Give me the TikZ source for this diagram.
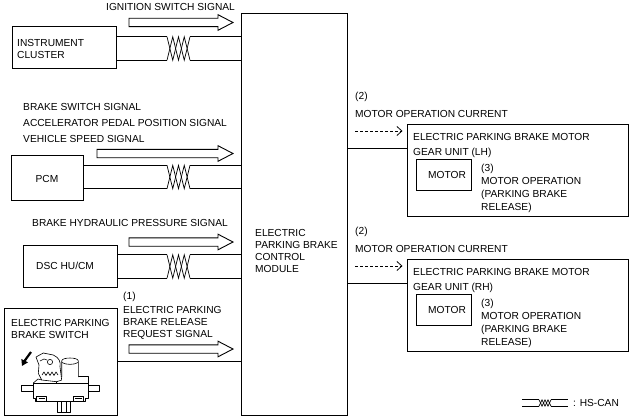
\documentclass[tikz,border=0pt]{standalone}
\usepackage{fontspec}
\setmainfont{Liberation Sans}
\usetikzlibrary{arrows.meta}
\begin{document}
\begin{tikzpicture}[x=1pt,y=-1pt,
  wire/.style={line width=0.9pt},
  box/.style={draw, line width=1pt, inner sep=0pt},
  lbl/.style={inner sep=0pt, anchor=north west, align=left, font=\fontsize{10.2}{12}\selectfont},
  txt/.style={inner sep=0pt, font=\fontsize{10.2}{12}\selectfont},
  sig/.style={dashed, dash pattern=on 3pt off 2pt, line width=0.8pt, -{Straight Barb[length=5pt,width=9pt]}, shorten >=4pt},
  barrow/.pic={\draw[line width=0.9pt, line join=miter] (0,-4.2) -- (#1-15,-4.2) -- (#1-15,-7.8) -- (#1,0) -- (#1-15,7.8) -- (#1-15,4.2) -- (0,4.2) -- cycle;},
  twist/.pic={
    \coordinate (-ul) at (-11.5,-11.75);
    \coordinate (-ur) at (11.5,-11.75);
    \coordinate (-ll) at (-11.5,11.75);
    \coordinate (-lr) at (11.5,11.75);
    \draw[line width=0.7pt] (-11.5,-11.75) -- (-5.75,11.75) -- (0,-11.75) -- (5.75,11.75) -- (11.5,-11.75);
    \draw[line width=0.7pt] (-11.5,11.75) -- (-5.75,-11.75) -- (0,11.75) -- (5.75,-11.75) -- (11.5,11.75);
  }]
\useasboundingbox (0,0) rectangle (636,417);

% ---------- boxes ----------
\node[box, minimum width=106pt, minimum height=401pt] (ecm) at (294,214.5) {};
\node[box, minimum width=104pt, minimum height=42pt] (inst) at (64,48) {};
\node[box, minimum width=72pt, minimum height=45pt] (pcm) at (47,177.5) {};
\node[box, minimum width=94pt, minimum height=42pt] (dsc) at (70,266) {};
\node[box, minimum width=113pt, minimum height=107pt] (sw) at (60.5,361.5) {};
\node[box, minimum width=221pt, minimum height=92pt] (lh) at (517.5,170) {};
\node[box, minimum width=55pt, minimum height=31pt] (lhm) at (443.5,174.5) {};
\node[box, minimum width=221pt, minimum height=92pt] (rh) at (517.5,305) {};
\node[box, minimum width=55pt, minimum height=31pt] (rhm) at (443.5,309.5) {};

% ---------- texts ----------
\node[lbl] (tIgn) at (106,3.5) {IGNITION SWITCH SIGNAL};
\node[lbl, font=\fontsize{10.2}{11.5}\selectfont] (tInst) at (17,39.5) {INSTRUMENT\\CLUSTER};
\node[lbl, font=\fontsize{10.2}{16}\selectfont] (tPcmSig) at (23,103) {BRAKE SWITCH SIGNAL\\ACCELERATOR PEDAL POSITION SIGNAL\\VEHICLE SPEED SIGNAL};
\node[txt, anchor=base] (tPcm) at (47,182.6) {PCM};
\node[lbl] (tDscSig) at (32,219.5) {BRAKE HYDRAULIC PRESSURE SIGNAL};
\node[txt, anchor=base west] (tDsc) at (36,269.6) {DSC HU/CM};
\node[lbl] (tOne) at (123,292) {(1)};
\node[lbl, font=\fontsize{10.2}{11.7}\selectfont] (tReq) at (123,306.5) {ELECTRIC PARKING\\BRAKE RELEASE\\REQUEST SIGNAL};
\node[lbl] (tSw) at (11,319) {ELECTRIC PARKING\\BRAKE SWITCH};
\node[lbl] (tEcm) at (255,229.5) {ELECTRIC\\PARKING BRAKE\\CONTROL\\MODULE};

\node[lbl] (tTwoL) at (355,92) {(2)};
\node[lbl] (tCurL) at (355,110) {MOTOR OPERATION CURRENT};
\node[lbl, font=\fontsize{10.2}{15}\selectfont] (tLh) at (413,133) {ELECTRIC PARKING BRAKE MOTOR\\GEAR UNIT (LH)};
\node[txt, anchor=base] (tMotL) at (447,178.2) {MOTOR};
\node[lbl, font=\fontsize{10.2}{13}\selectfont] (tOpL) at (481,164) {(3)\\MOTOR OPERATION\\(PARKING BRAKE\\RELEASE)};

\node[lbl] (tTwoR) at (355,227) {(2)};
\node[lbl] (tCurR) at (355,245) {MOTOR OPERATION CURRENT};
\node[lbl, font=\fontsize{10.2}{15}\selectfont] (tRh) at (413,268) {ELECTRIC PARKING BRAKE MOTOR\\GEAR UNIT (RH)};
\node[txt, anchor=base] (tMotR) at (447,313.2) {MOTOR};
\node[lbl, font=\fontsize{10.2}{13}\selectfont] (tOpR) at (481,299) {(3)\\MOTOR OPERATION\\(PARKING BRAKE\\RELEASE)};

% ---------- signal block arrows ----------
\pic (aIgn) at (129,22.5) {barrow=104};
\pic (aPcm) at (97,153.5) {barrow=136};
\pic (aDsc) at (129,242) {barrow=104};
\pic (aReq) at (129,349) {barrow=104};

% ---------- HS-CAN twisted pairs ----------
\pic (tI) at (178.5,48.5) {twist};
\draw[wire] (inst.east |- tI-ul) -- (tI-ul);
\draw[wire] (inst.east |- tI-ll) -- (tI-ll);
\draw[wire] (tI-ur) -- (ecm.west |- tI-ur);
\draw[wire] (tI-lr) -- (ecm.west |- tI-lr);

\pic (tP) at (178.5,177) {twist};
\draw[wire] (pcm.east |- tP-ul) -- (tP-ul);
\draw[wire] (pcm.east |- tP-ll) -- (tP-ll);
\draw[wire] (tP-ur) -- (ecm.west |- tP-ur);
\draw[wire] (tP-lr) -- (ecm.west |- tP-lr);

\pic (tD) at (178.5,266.5) {twist};
\draw[wire] (dsc.east |- tD-ul) -- (tD-ul);
\draw[wire] (dsc.east |- tD-ll) -- (tD-ll);
\draw[wire] (tD-ur) -- (ecm.west |- tD-ur);
\draw[wire] (tD-lr) -- (ecm.west |- tD-lr);

% switch wire
\draw[wire] (sw.east |- 0,361) -- (ecm.west |- 0,361);

% ---------- outputs ----------
\coordinate (dL) at (355,131);
\draw[sig] (dL) -- (lh.west |- dL);
\draw[wire] (ecm.east |- 0,148) -- (lh.west |- 0,148);
\coordinate (dR) at (355,266);
\draw[sig] (dR) -- (rh.west |- dR);
\draw[wire] (ecm.east |- 0,283) -- (rh.west |- 0,283);

% ---------- legend ----------
\pic[xscale=0.52, yscale=0.27] (tL) at (545,403) {twist};
\coordinate (lgA) at (522,403);
\coordinate (lgB) at (568,403);
\draw[wire] (lgA |- tL-ul) -- (tL-ul);
\draw[wire] (lgA |- tL-ll) -- (tL-ll);
\draw[wire] (tL-ur) -- (lgB |- tL-ur);
\draw[wire] (tL-lr) -- (lgB |- tL-lr);
\node[txt, anchor=base west] (tLeg) at (573,406.6) {: HS-CAN};

% ---------- switch illustration ----------
\begin{scope}[line width=0.6pt, line join=round]
  \draw[line width=2.2pt, -{Triangle[length=6pt,width=7pt]}] (31,352) .. controls (27,356) .. (22,366);
  \draw (21.7,385.7) rectangle (33.3,391.7);
  \draw (88.3,385.7) rectangle (99,391.7);
  \draw[fill=white] (33.3,383) -- (88.3,383) -- (88.3,398.3) -- (85,398.3) -- (85,401.7) -- (35,401.7) -- (35,398.3) -- (33.3,398.3) -- cycle;
  \draw (36.7,396.7) rectangle (46.7,401.7);
  \draw (38.5,398.3) -- (45,398.3);
  \draw (73.3,396.7) rectangle (83.3,401.7);
  \draw (75,398.3) -- (81.5,398.3);
  \draw[fill=white] (57.7,401.7) rectangle (70,412.3);
  \draw (61,401.7) -- (61,412.3) (66.7,401.7) -- (66.7,412.3);
  \draw[fill=white] (56.7,376.7) rectangle (88.3,383);
  \draw[fill=white] (61.7,377) -- (61.7,361) .. controls (61.7,357) and (78.3,357) .. (78.3,361) -- (78.3,377);
  \draw (62,362.5) .. controls (66,365) and (74,365) .. (78,362.5);
  \draw[fill=white] (36,357) -- (43.3,353) -- (53.3,355) .. controls (59,357.5) and (61,362) .. (60,366.7) -- (61.7,380) -- (56.7,381.7) -- (41.7,380) -- (38.3,373.3) -- (39,365) -- cycle;
  \draw (50,362) circle (2.6pt);
  \draw (42,375) -- (44,372) -- (46,375.5) -- (48,372) -- (50,375.5) -- (52,372) -- (54,375.5) -- (56,372) -- (58,375);
  \draw (40,361) -- (44,359) -- (47,360);
  \draw (33.3,383) -- (38,379) -- (41.7,380);
\end{scope}
\end{tikzpicture}
\end{document}
